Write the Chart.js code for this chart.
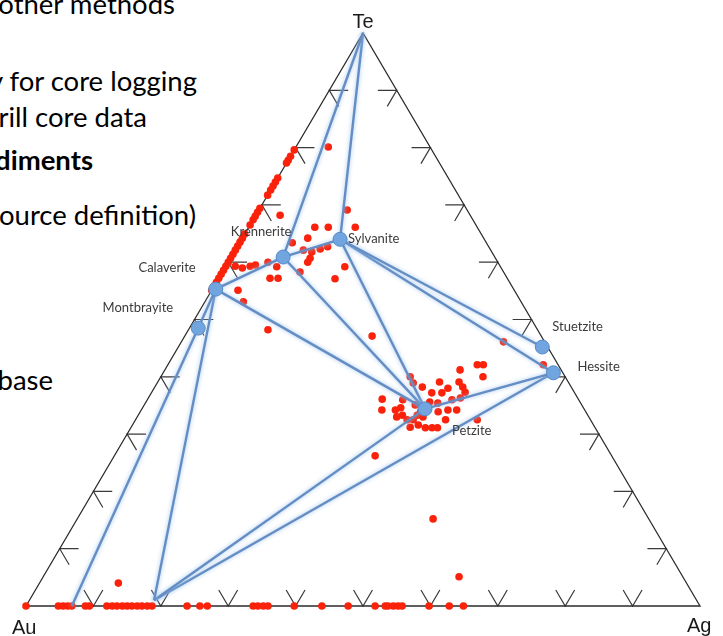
<!DOCTYPE html>
<html>
<head>
<meta charset="utf-8">
<script src="https://cdn.jsdelivr.net/npm/chart.js@4.4.1/dist/chart.umd.min.js"></script>
<style>
  html, body { margin: 0; padding: 0; background: #fff; }
  #wrap { position: relative; width: 723px; height: 636px; overflow: hidden; }
  .slide { position: absolute; font-family: Lato, sans-serif; font-size: 27.5px; line-height: 1; color: #000; white-space: nowrap; }
  canvas { position: absolute; left: 0; top: 0; }
</style>
</head>
<body>
<div id="wrap">
  <div class="slide" style="right:548px; top:-10px;">other methods</div>
  <div class="slide" style="right:526px; top:67px;">y for core logging</div>
  <div class="slide" style="right:576px; top:103px;">rill core data</div>
  <div class="slide" style="right:630px; top:146px; font-weight:bold;">diments</div>
  <div class="slide" style="right:527px; top:201px;">ource definition)</div>
  <div class="slide" style="right:670px; top:366px;">base</div>
  <canvas id="ternary-chart" width="723" height="636"></canvas>
</div>
<script>
// corners of the Au-Ag-Te diagram (wt% Ag, wt% Te; Au is the rest)
const cornerNames = ['Au', 'Ag', 'Te'];
const cornerAg = [0, 100, 0];
const cornerTe = [0, 0, 100];

// telluride minerals (blue)
const mineralNames = ['Calaverite', 'Montbrayite', 'Krennerite', 'Sylvanite', 'Stuetzite', 'Hessite', 'Petzite'];
const mineralAg = [0.5, 1.3, 7.7, 14.6, 54.0, 57.9, 42.0];
const mineralTe = [55.3, 48.5, 60.9, 64.0, 45.2, 40.7, 34.4];

// other tie line ends (Te apex and two Au-Ag alloys)
const junctionNames = ['Te', 'alloyA', 'alloyB'];
const junctionAg = [0, 6.8, 18.5];
const junctionTe = [100, 0, 1];

const tieLines = [
  ['Te', 'Krennerite'], ['Te', 'Sylvanite'],
  ['Calaverite', 'Krennerite'], ['Krennerite', 'Sylvanite'],
  ['Calaverite', 'Montbrayite'], ['Montbrayite', 'alloyA'],
  ['Calaverite', 'alloyB'], ['Calaverite', 'Petzite'],
  ['Krennerite', 'Petzite'], ['Sylvanite', 'Petzite'],
  ['Sylvanite', 'Stuetzite'], ['Sylvanite', 'Hessite'],
  ['Petzite', 'Hessite'], ['Petzite', 'alloyB'], ['Hessite', 'alloyB']
];

const tickSteps = [10, 20, 30, 40, 50, 60, 70, 80, 90];

// analyses (red)
const sampleAg = [
  0, 0, 0, 0, 0, 0, 0, 0, 0, 0, 0, 0, 0, 0, 0, 0, 0, 0, 0, 0, 0, 0, 0, 0, 0, 0, 0, 0, 0,
  4.8, 13.1, 3.6, 9.8, 11.8, 15.8, 9.7, 7.8, 10.1, 11.5, 12.5, 13.4, 11.8, 11.5, 11.8, 7.6, 7.6, 8.8, 17.3, 17.7,
  3.9, 5.7, 11.8, 27.8, 1.4, 2.6, 3.6, 4.3, 5.9,
  47.8, 55.7, 45.9, 46.8, 47.8, 43.8, 41.8, 44.7, 37.0, 38.0, 39.7, 34.8, 35.7, 37.7, 37.9, 41.6, 43.1, 43.6,
  45.7, 46.5, 46.8, 45.5, 43.4, 42.1, 39.2, 40.3, 41.2, 42.4, 41.4, 43.7, 44.7, 45.5, 41.4, 42.4, 38.5, 46.3,
  45.2, 44.2, 50.7, 38.7, 40.2, 38.3, 42.5, 41.6, 46.0,
  11.7, 52.8, 61.7,
  0, 4.8, 5.5, 6.2, 6.8, 8.8, 9.4, 12.0, 12.8, 13.5, 14.3, 15.0, 15.7, 16.5, 17.2, 18.0, 18.7, 23.9, 25.8, 26.9,
  33.7, 34.4, 35.2, 35.9, 39.8, 43.9, 47.8, 51.8, 53.3, 53.7, 54.5, 55.2, 55.8, 59.8, 62.8, 64.9
];
const sampleTe = [
  79.6, 78.5, 77.8, 77.3, 74.7, 74.0, 73.3, 72.6, 71.7, 69.4, 68.7, 68.0, 67.4, 66.5, 64.9, 64.2, 63.5, 62.8, 62.1,
  61.4, 60.7, 60.0, 59.3, 58.6, 57.9, 57.2, 56.5, 55.8, 55.1,
  80.1, 69.1, 68.2, 66.1, 66.1, 66.1, 64.2, 63.4, 62.1, 61.8, 62.3, 62.7, 60.7, 58.3, 60.0, 59.2, 57.2, 57.2, 57.1, 59.2,
  55.1, 53.1, 48.2, 47.1, 59.3, 59.0, 59.3, 59.5, 60.0,
  46.1, 42.1, 42.1, 42.1, 40.0, 41.2, 39.1, 39.1, 40.0, 38.9, 38.2, 36.1, 34.2, 34.2, 36.0, 37.2, 37.2, 38.0,
  38.2, 37.3, 34.2, 34.2, 35.4, 35.6, 33.3, 32.5, 32.5, 31.6, 31.2, 31.1, 31.1, 31.1, 33.3, 33.0, 33.0, 36.3,
  36.0, 33.9, 32.5, 26.2, 35.1, 34.6, 34.2, 33.9, 32.5,
  4.0, 15.2, 5.1,
  0, 0, 0, 0, 0, 0, 0, 0, 0, 0, 0, 0, 0, 0, 0, 0, 0, 0, 0, 0,
  0, 0, 0, 0, 0, 0, 0, 0, 0, 0, 0, 0, 0, 0, 0, 0
];

// Au at (0,0), Ag at (100,0), Te at (50,100)
function toXY(ag, te) { return { x: ag + te / 2, y: te }; }

function nodeXY(name) {
  let i = mineralNames.indexOf(name);
  if (i >= 0) return toXY(mineralAg[i], mineralTe[i]);
  i = junctionNames.indexOf(name);
  return toXY(junctionAg[i], junctionTe[i]);
}

const TICK = 2.8;
const datasets = [];

datasets.push({
  data: [0, 1, 2, 0].map(i => toXY(cornerAg[i], cornerTe[i])),
  borderColor: '#2b2b2b', borderWidth: 1.3, pointRadius: 0, order: 5
});

tickSteps.forEach(k => {
  const marks = [
    [toXY(k - TICK, TICK), toXY(k, 0), toXY(k, TICK)],
    [toXY(TICK, k), toXY(0, k), toXY(TICK, k - TICK)],
    [toXY(100 - k - TICK, k), toXY(100 - k, k), toXY(100 - k, k - TICK)]
  ];
  marks.forEach(m => datasets.push({
    data: m, borderColor: '#3a3a3a', borderWidth: 1.2, pointRadius: 0, order: 5
  }));
});

tieLines.forEach(([a, b]) => datasets.push({
  data: [nodeXY(a), nodeXY(b)],
  borderColor: 'rgb(100,141,196)', borderWidth: 2.4, pointRadius: 0, order: 2, glow: true
}));

datasets.push({
  data: sampleAg.map((ag, i) => toXY(ag, sampleTe[i])),
  showLine: false, pointRadius: 3.8, backgroundColor: 'rgb(250,34,10)', borderWidth: 0, order: 3
});

datasets.push({
  data: mineralAg.map((ag, i) => toXY(ag, mineralTe[i])),
  showLine: false, pointRadius: 7, backgroundColor: 'rgb(112,165,224)',
  borderColor: 'rgb(88,138,200)', borderWidth: 1, order: 1
});

datasets.forEach(d => { d.clip = false; if (d.showLine === undefined) d.showLine = true; });

// where the names sit relative to their marks
const mineralLabelPos = {
  Calaverite: [-20, -21, 'right'], Montbrayite: [-25, -20, 'right'],
  Krennerite: [-22, -25, 'center'], Sylvanite: [8, 0, 'left'],
  Stuetzite: [10, -20, 'left'], Hessite: [24, -6, 'left'], Petzite: [27, 22, 'left']
};
const cornerLabelPos = { Au: [-14, 21, 'left'], Ag: [-13, 19, 'left'], Te: [0, -12, 'center'] };

const glowPlugin = {
  id: 'glow',
  beforeDatasetDraw(chart, args) {
    if (!args.meta._dataset.glow) return;
    const ctx = chart.ctx;
    ctx.save();
    ctx.shadowColor = 'rgba(150,190,235,0.9)';
    ctx.shadowBlur = 4;
  },
  afterDatasetDraw(chart, args) {
    if (args.meta._dataset.glow) chart.ctx.restore();
  }
};

const labelPlugin = {
  id: 'ternaryLabels',
  afterDatasetsDraw(chart) {
    const { ctx, scales: { x, y } } = chart;
    ctx.save();
    ctx.textBaseline = 'middle';
    ctx.fillStyle = '#3a3a3a';
    ctx.font = '13px Lato, sans-serif';
    mineralNames.forEach((name, i) => {
      const p = toXY(mineralAg[i], mineralTe[i]);
      const [dx, dy, align] = mineralLabelPos[name];
      ctx.textAlign = align;
      ctx.fillText(name, x.getPixelForValue(p.x) + dx, y.getPixelForValue(p.y) + dy);
    });
    ctx.fillStyle = '#1a1a1a';
    ctx.font = '20px "Liberation Sans", Arial, sans-serif';
    ctx.textBaseline = 'alphabetic';
    cornerNames.forEach((name, i) => {
      const p = toXY(cornerAg[i], cornerTe[i]);
      const [dx, dy, align] = cornerLabelPos[name];
      ctx.textAlign = align;
      ctx.fillText(name, x.getPixelForValue(p.x) + dx, y.getPixelForValue(p.y) + dy + 7);
    });
    ctx.restore();
  }
};

const ctx = document.getElementById('ternary-chart').getContext('2d');
const ternaryChart = new Chart(ctx, {
  type: 'scatter',
  data: { datasets },
  options: {
    responsive: false,
    animation: false,
    layout: { padding: { left: 26, right: 23, top: 33, bottom: 30 } },
    plugins: { legend: { display: false }, tooltip: { enabled: false } },
    scales: {
      x: { type: 'linear', min: 0, max: 100, display: false },
      y: { type: 'linear', min: 0, max: 100, display: false }
    }
  },
  plugins: [glowPlugin, labelPlugin]
});
</script>
</body>
</html>
